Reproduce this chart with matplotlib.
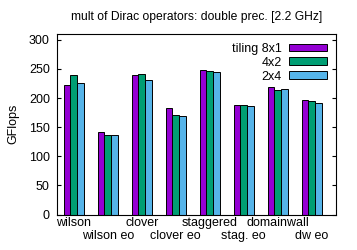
import numpy as np
import matplotlib
matplotlib.use("Agg")
import matplotlib.pyplot as plt

# datos
operators = ["wilson", "wilson eo", "clover", "clover eo", "staggered", "stag. eo", "domainwall", "dw eo"]
tiling_8x1 = [222, 142, 239, 183, 248, 188, 219, 197]
tiling_4x2 = [240, 136, 241, 171, 246, 188, 214, 195]
tiling_2x4 = [226, 136, 231, 170, 245, 187, 216, 192]
series_names = ["tiling 8x1", "4x2", "2x4"]
colors = ["#9400D3", "#009E73", "#56B4E9"]

plt.rcParams["font.family"] = ["Liberation Sans", "DejaVu Sans"]
plt.rcParams["font.size"] = 9

fig = plt.figure(figsize=(3.57, 2.5), dpi=100)
ax = fig.add_axes([0.159, 0.142, 0.781, 0.722])

x = np.arange(len(operators))
w = 0.2
for i, (vals, name, c) in enumerate(zip([tiling_8x1, tiling_4x2, tiling_2x4], series_names, colors)):
    ax.bar(x + (i - 1) * w, vals, w, color=c, edgecolor="black", linewidth=0.7, label=name)

ax.set_xlim(-0.5, 7.7)
ax.set_ylim(0, 310)
ax.set_yticks(range(0, 301, 50))
ax.tick_params(axis="y", direction="in", length=3, right=True, pad=5)

# etiquetas alternadas en dos filas
ax.set_xticks(x[::2])
ax.set_xticklabels(operators[::2])
ax.set_xticks(x[1::2], minor=True)
ax.set_xticklabels(operators[1::2], minor=True)
ax.tick_params(axis="x", which="major", length=0, pad=2)
ax.tick_params(axis="x", which="minor", length=0, pad=11)

ax.set_ylabel("GFlops", labelpad=7)
ax.set_title("mult of Dirac operators: double prec. [2.2 GHz]", fontsize=8.7, pad=10)

ax.legend(loc="upper right", frameon=False, markerfirst=False, handlelength=3.0, handleheight=0.55,
          labelspacing=0.15, handletextpad=0.6, borderaxespad=0.3, borderpad=0.4)

fig.savefig("out.png", dpi=100)
